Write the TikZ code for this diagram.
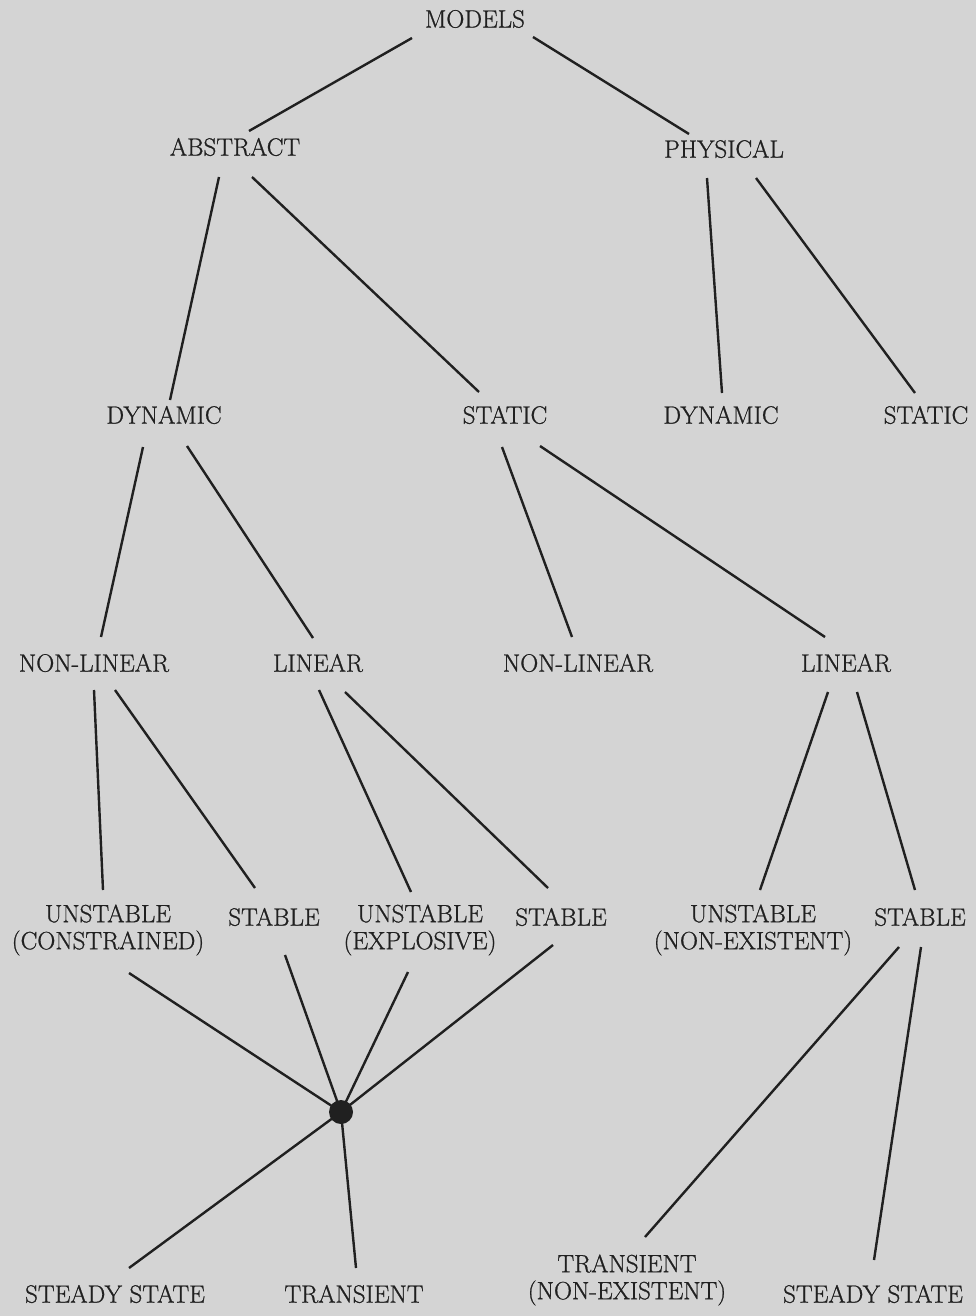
\documentclass[tikz,border=0pt]{standalone}
\usepackage{fontspec}
\newfontfamily\lblfont{Latin Modern Roman}[FakeBold=0.9]
\usetikzlibrary{calc}
\definecolor{pagebg}{RGB}{212,212,212}
\definecolor{ink}{RGB}{32,32,32}
\begin{document}
\begin{tikzpicture}[x=1pt,y=-1pt,
  lbl/.style={inner sep=0pt,text=ink,font=\lblfont\fontsize{25}{27}\selectfont,align=center},
  conn/.style={draw=ink,line width=2.4pt},
  junction/.style={circle,fill=ink,inner sep=0pt,minimum size=24pt}]
\fill[pagebg] (0,0) rectangle (976,1316);
\useasboundingbox (0,0) rectangle (976,1316);
% nodes
\node[lbl] (models)   at (475,19)   {MODELS};
\node[lbl] (abstract) at (235,147)  {ABSTRACT};
\node[lbl] (physical) at (724,149)  {PHYSICAL};
\node[lbl] (dynL)     at (164,415)  {DYNAMIC};
\node[lbl] (staticM)  at (505,415)  {STATIC};
\node[lbl] (dynR)     at (721,415)  {DYNAMIC};
\node[lbl] (staticR)  at (926,415)  {STATIC};
\node[lbl] (nlL)      at (94,663)   {NON-LINEAR};
\node[lbl] (linL)     at (318,663)  {LINEAR};
\node[lbl] (nlM)      at (578,663)  {NON-LINEAR};
\node[lbl] (linR)     at (846,663)  {LINEAR};
\node[lbl] (unC)      at (108,930)  {UNSTABLE\\(CONSTRAINED)};
\node[lbl] (stL)      at (274,917)  {STABLE};
\node[lbl] (unE)      at (420,930)  {UNSTABLE\\(EXPLOSIVE)};
\node[lbl] (stM)      at (561,917)  {STABLE};
\node[lbl] (unN)      at (753,930)  {UNSTABLE\\(NON-EXISTENT)};
\node[lbl] (stR)      at (920,917)  {STABLE};
\node[lbl] (ssL)      at (115,1294) {STEADY STATE};
\node[lbl] (tr)       at (354,1294) {TRANSIENT};
\node[lbl] (trN)      at (627,1280) {TRANSIENT\\(NON-EXISTENT)};
\node[lbl] (ssR)      at (873,1294) {STEADY STATE};
\coordinate (dotc) at (341,1112);
% connectors
\draw[conn] ([shift={(-63,19)}]models.center) -- ([shift={(14,-16)}]abstract.center);
\draw[conn] ([shift={(58,18)}]models.center) -- ([shift={(-35,-15)}]physical.center);
\draw[conn] ([shift={(-16,30)}]abstract.center) -- ([shift={(6,-15)}]dynL.center);
\draw[conn] ([shift={(17,30)}]abstract.center) -- ([shift={(-26,-23)}]staticM.center);
\draw[conn] ([shift={(-17,29)}]physical.center) -- ([shift={(1,-22)}]dynR.center);
\draw[conn] ([shift={(32,29)}]physical.center) -- ([shift={(-11,-22)}]staticR.center);
\draw[conn] ([shift={(-21,32)}]dynL.center) -- ([shift={(7,-26)}]nlL.center);
\draw[conn] ([shift={(23,31)}]dynL.center) -- ([shift={(-5,-25)}]linL.center);
\draw[conn] ([shift={(-3,32)}]staticM.center) -- ([shift={(-6,-26)}]nlM.center);
\draw[conn] ([shift={(35,31)}]staticM.center) -- ([shift={(-21,-26)}]linR.center);
\draw[conn] ([shift={(0,27)}]nlL.center) -- ([shift={(-5,-40)}]unC.center);
\draw[conn] ([shift={(21,27)}]nlL.center) -- ([shift={(-19,-29)}]stL.center);
\draw[conn] ([shift={(1,27)}]linL.center) -- ([shift={(-9,-38)}]unE.center);
\draw[conn] ([shift={(27,29)}]linL.center) -- ([shift={(-13,-29)}]stM.center);
\draw[conn] ([shift={(-18,29)}]linR.center) -- ([shift={(7,-40)}]unN.center);
\draw[conn] ([shift={(11,29)}]linR.center) -- ([shift={(-5,-27)}]stR.center);
\draw[conn] ([shift={(21,43)}]unC.center) -- (dotc);
\draw[conn] ([shift={(11,38)}]stL.center) -- (dotc);
\draw[conn] ([shift={(-12,42)}]unE.center) -- (dotc);
\draw[conn] ([shift={(-8,28)}]stM.center) -- (dotc);
\draw[conn] (dotc) -- ([shift={(14,-26)}]ssL.center);
\draw[conn] (dotc) -- ([shift={(2,-26)}]tr.center);
\draw[conn] ([shift={(-21,30)}]stR.center) -- ([shift={(18,-43)}]trN.center);
\draw[conn] ([shift={(1,30)}]stR.center) -- ([shift={(1,-34)}]ssR.center);
\node[junction] (dot) at (dotc) {};
\end{tikzpicture}
\end{document}
